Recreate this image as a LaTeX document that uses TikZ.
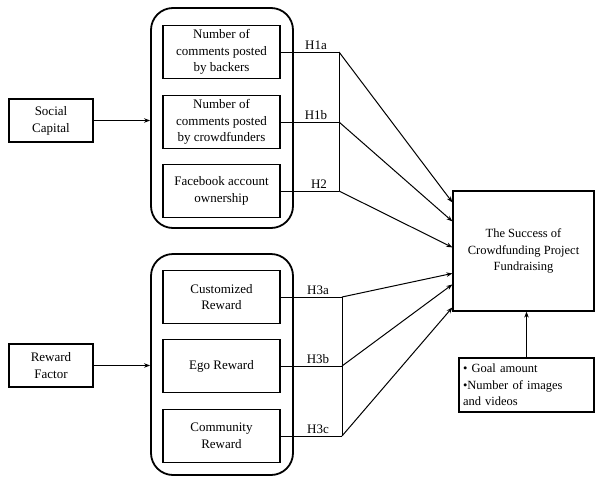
\documentclass[tikz,border=0pt]{standalone}
\usepackage{fontspec}
\setmainfont{Liberation Serif}
\usetikzlibrary{arrows.meta,calc}
\begin{document}
\begin{tikzpicture}[x=1pt,y=-1pt,
  box/.style={draw,line width=1.2pt,align=center,font=\fontsize{13}{16.8}\selectfont,inner sep=1pt},
  inbox/.style={box,minimum width=117pt,minimum height=53pt},
  grp/.style={draw,line width=1.8pt,rounded corners=22pt,minimum width=142pt},
  conn/.style={line width=1pt},
  arr/.style={conn,-{Stealth[length=6pt,width=4.5pt]}},
  hlab/.style={font=\fontsize{13}{15}\selectfont,anchor=south,inner sep=2pt}]
\useasboundingbox (0,0) rectangle (595,477);
% groups
\node[grp,minimum height=220pt] (g1) at (222,118) {};
\node[grp,minimum height=221pt] (g2) at (222,364.5) {};
% inner boxes
\node[inbox] (b1) at (221.5,52) {Number of\\comments posted\\by backers};
\node[inbox] (b2) at (221.5,122) {Number of\\comments posted\\by crowdfunders};
\node[inbox] (b3) at (221.5,191) {Facebook account\\ownership};
\node[inbox] (b4) at (221.5,297) {Customized\\Reward};
\node[inbox] (b5) at (221.5,366) {Ego Reward};
\node[inbox] (b6) at (221.5,436) {Community\\Reward};
% left factors
\node[box,minimum width=84pt,minimum height=43pt] (sc) at (51,120.5) {Social\\Capital};
\node[box,minimum width=84pt,minimum height=43pt] (rf) at (51,365.5) {Reward\\Factor};
% outcome
\node[box,font=\fontsize{12.5}{16.5}\selectfont,minimum width=141pt,minimum height=120pt] (succ) at (523.5,251) {The Success of\\Crowdfunding Project\\Fundraising};
\node[box,font=\fontsize{12.5}{16.5}\selectfont,minimum width=135pt,minimum height=54pt,align=left,text width=127pt,inner sep=3pt] (ctrl) at (526.5,385) {\textbullet{} Goal amount\\\textbullet Number of images\\and videos};
% bracket points
\coordinate (p1) at (339,52);
\coordinate (p2) at (339,122);
\coordinate (p3) at (339,191);
\coordinate (p4) at (342,297);
\coordinate (p5) at (342,366);
\coordinate (p6) at (342,436);
% arrival points on outcome box
\coordinate (t1) at ($(succ.north west)+(0,12)$);
\coordinate (t2) at ($(succ.north west)+(0,31)$);
\coordinate (t3) at ($(succ.north west)+(0,57)$);
\coordinate (t4) at ($(succ.north west)+(0,83)$);
\coordinate (t5) at ($(succ.north west)+(0,94)$);
\coordinate (t6) at ($(succ.north west)+(0,117)$);
% horizontal connectors and brackets
\draw[conn] (b1.east) -- (p1);
\draw[conn] (b2.east) -- (p2);
\draw[conn] (b3.east) -- (p3);
\draw[conn] (p1) -- (p3);
\draw[conn] (b4.east) -- (p4);
\draw[conn] (b5.east) -- (p5);
\draw[conn] (b6.east) -- (p6);
\draw[conn] (p4) -- (p6);
% labels
\node[hlab] at (316,52) {H1a};
\node[hlab] at (316,122) {H1b};
\node[hlab] at (319,191) {H2};
\node[hlab] at (318,297) {H3a};
\node[hlab] at (318,366) {H3b};
\node[hlab] at (318,436) {H3c};
% arrows to outcome
\draw[arr] (p1) -- (t1);
\draw[arr] (p2) -- (t2);
\draw[arr] (p3) -- (t3);
\draw[arr] (p4) -- (t4);
\draw[arr] (p5) -- (t5);
\draw[arr] (p6) -- (t6);
% factor arrows
\draw[arr] (sc.east) -- (sc.east -| g1.west);
\draw[arr] (rf.east) -- (rf.east -| g2.west);
\draw[arr] (ctrl.north) -- (ctrl.north |- succ.south);
\end{tikzpicture}
\end{document}
